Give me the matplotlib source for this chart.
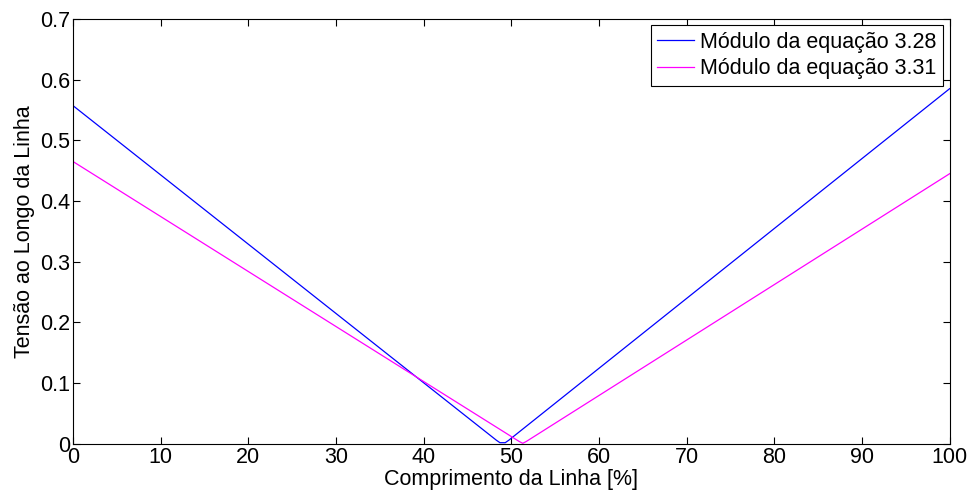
import numpy as np
import matplotlib.pyplot as plt

plt.rcParams['font.family'] = ['Liberation Sans', 'DejaVu Sans']

# comprimento da linha [%] e tensao ao longo da linha
x_eq328 = [0, 48.3, 48.7, 49.3, 49.7, 100]
v_eq328 = [0.557, 0.006, 0.002, 0.002, 0.006, 0.585]

x_eq331 = [0, 50.9, 51.3, 51.7, 100]
v_eq331 = [0.465, 0.004, 0.001, 0.004, 0.445]

xticks = [0, 10, 20, 30, 40, 50, 60, 70, 80, 90, 100]
yticks = [0, 0.1, 0.2, 0.3, 0.4, 0.5, 0.6, 0.7]

fs = 15.5

fig = plt.figure(figsize=(9.74, 4.96), dpi=100)
ax = fig.add_axes([0.075, 0.105, 0.9, 0.857])

ax.plot(x_eq328, v_eq328, color='#0000ff', lw=0.9, label='Módulo da equação 3.28')
ax.plot(x_eq331, v_eq331, color='#ff00ff', lw=0.9, label='Módulo da equação 3.31')

ax.set_xlim(0, 100)
ax.set_ylim(0, 0.7)
ax.set_xticks(xticks)
ax.set_yticks(yticks)
ax.set_xticklabels([str(t) for t in xticks])
ax.set_yticklabels(['0', '0.1', '0.2', '0.3', '0.4', '0.5', '0.6', '0.7'])
ax.tick_params(direction='in', top=True, right=True, labelsize=fs, length=5, width=0.8, pad=2)
for s in ax.spines.values():
    s.set_linewidth(0.8)

ax.set_xlabel('Comprimento da Linha [%]', fontsize=fs, labelpad=1)
ax.set_ylabel('Tensão ao Longo da Linha', fontsize=fs, labelpad=4)

leg = ax.legend(loc='upper right', fontsize=fs, fancybox=False, framealpha=1,
                edgecolor='black', handlelength=1.7, handletextpad=0.3,
                borderpad=0.3, labelspacing=0.25, borderaxespad=0.3)
leg.get_frame().set_linewidth(0.8)

fig.savefig('out.png', dpi=100)
